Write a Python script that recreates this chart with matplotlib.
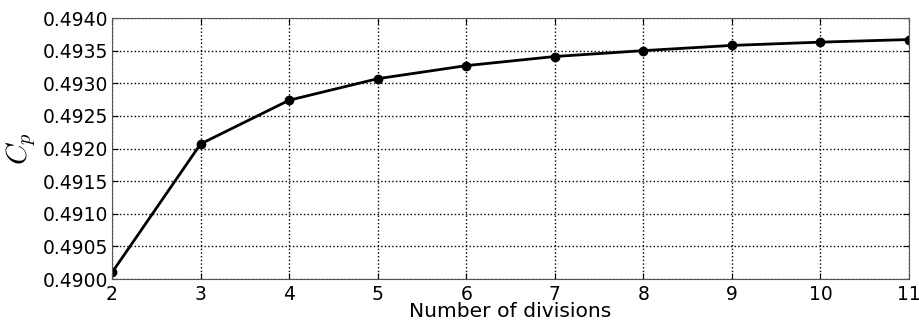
import matplotlib
matplotlib.use('Agg')
import matplotlib.pyplot as plt

plt.rcParams['mathtext.fontset'] = 'cm'

# Number of divisions vs pressure coefficient
divisions = [2, 3, 4, 5, 6, 7, 8, 9, 10, 11]
cp_values = [0.49010, 0.49207, 0.49274, 0.49307, 0.49327,
             0.49341, 0.49350, 0.49358, 0.49363, 0.49367]
y_ticks = [0.4900, 0.4905, 0.4910, 0.4915, 0.4920, 0.4925, 0.4930, 0.4935, 0.4940]

fig = plt.figure(figsize=(9.19, 3.21), dpi=100)
ax = fig.add_axes([0.1219, 0.1308, 0.8672, 0.8131])

ax.plot(divisions, cp_values, color='black', linewidth=2, marker='o', markersize=6)

ax.set_xlim(2, 11)
ax.set_ylim(0.4900, 0.4940)
ax.set_xticks(divisions)
ax.set_yticks(y_ticks)
ax.set_yticklabels(['{:.4f}'.format(v) for v in y_ticks])

ax.grid(True, color='black', linestyle=':', linewidth=1)
ax.tick_params(direction='in', top=True, right=True, labelsize=13.5, length=4)
ax.tick_params(axis='y', pad=3)
ax.tick_params(axis='x', pad=4)
for s in ax.spines.values():
    s.set_color('#555555')

ax.set_xlabel('Number of divisions', fontsize=14.6, labelpad=-1)
ax.set_ylabel('$C_p$', fontsize=21, labelpad=3)

fig.savefig('out.png', dpi=100)
